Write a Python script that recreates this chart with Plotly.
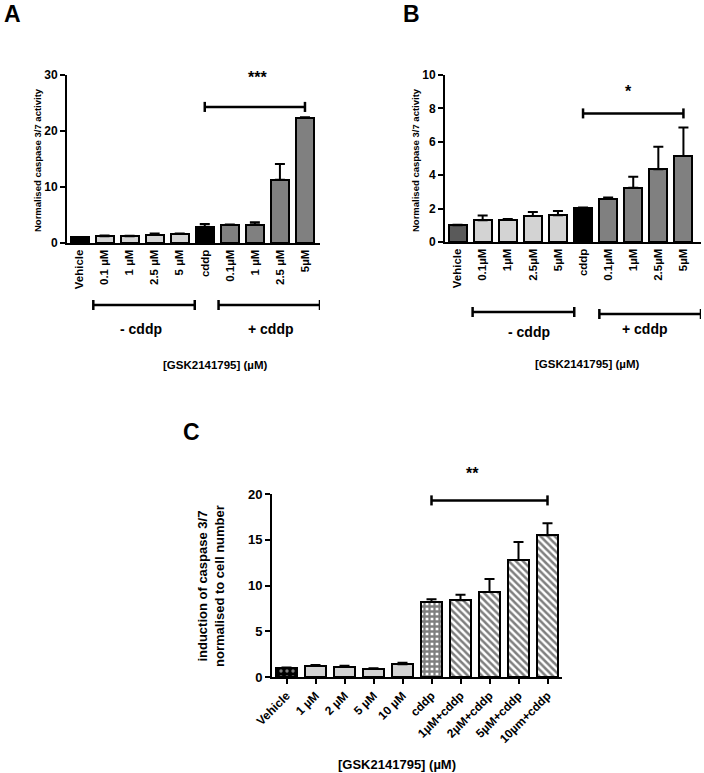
import plotly.graph_objects as go

W, H = 704, 773

# ---------------- data ----------------
a_labels = ["Vehicle", "0.1 µM", "1 µM", "2.5 µM", "5 µM", "cddp", "0.1µM", "1 µM", "2.5 µM", "5µM"]
a_values = [1.0, 1.2, 1.2, 1.5, 1.6, 2.9, 3.2, 3.3, 11.3, 22.3]
a_errors = [0.05, 0.15, 0.1, 0.2, 0.1, 0.5, 0.1, 0.4, 2.8, 0.15]

b_labels = ["Vehicle", "0.1µM", "1µM", "2.5µM", "5µM", "cddp", "0.1µM", "1µM", "2.5µM", "5µM"]
b_values = [1.0, 1.3, 1.33, 1.55, 1.6, 2.03, 2.6, 3.25, 4.35, 5.15]
b_errors = [0.03, 0.28, 0.05, 0.25, 0.25, 0.04, 0.06, 0.65, 1.35, 1.7]

c_labels = ["Vehicle", "1 µM", "2 µM", "5 µM", "10 µM", "cddp", "1µM+cddp", "2µM+cddp", "5µM+cddp", "10µm+cddp"]
c_values = [1.0, 1.2, 1.1, 0.9, 1.4, 8.2, 8.4, 9.3, 12.8, 15.5]
c_errors = [0.05, 0.12, 0.12, 0.05, 0.15, 0.3, 0.6, 1.4, 1.95, 1.3]

a_sig, b_sig, c_sig = "***", "*", "**"
a_sig_y, b_sig_y, c_sig_y = 24.3, 7.7, 19.3

# ---------------- helpers ----------------
FONT = "Liberation Sans, Arial, sans-serif"
def px(x):
    return x / W
def py(y):
    return 1 - y / H

fig = go.Figure()

def add_bar(xa, ya, i, value, error, color, pattern=None, width=0.72, cap=5):
    marker = dict(color=color, line=dict(color="black", width=2))
    if pattern is not None:
        marker["pattern"] = pattern
    fig.add_trace(go.Bar(
        x=[i], y=[value], xaxis=xa, yaxis=ya, width=width, marker=marker,
        error_y=dict(type="data", symmetric=False, array=[error],
                     arrayminus=[0], color="black", thickness=2, width=cap),
        showlegend=False, hoverinfo="skip"))

LG, DG, BK = "#d3d3d3", "#808080", "#000000"
a_colors = [BK, LG, LG, LG, LG, BK, DG, DG, DG, DG]
b_colors = ["#5a5a5a", LG, LG, LG, LG, BK, DG, DG, DG, DG]
for i in range(len(a_labels)):
    add_bar("x", "y", i, a_values[i], a_errors[i], a_colors[i])
for i in range(len(b_labels)):
    add_bar("x2", "y2", i, b_values[i], b_errors[i], b_colors[i])

DOTS = dict(shape=".", fgcolor="white", bgcolor="black", size=6, solidity=0.25, fillmode="overlay")
CHECK = dict(shape="+", fgcolor="black", bgcolor="white", size=5, solidity=0.7, fillmode="overlay")
HATCH = dict(shape="\\", fgcolor="black", bgcolor="white", size=5, solidity=0.5, fillmode="overlay")
c_styles = [(BK, DOTS), (LG, None), (LG, None), (LG, None), (LG, None),
            ("white", CHECK), ("white", HATCH), ("white", HATCH), ("white", HATCH), ("white", HATCH)]
for i in range(len(c_labels)):
    col, pat = c_styles[i]
    add_bar("x3", "y3", i, c_values[i], c_errors[i], col, pattern=pat, width=0.7, cap=5)

def xaxis(dom, labels, angle, size, rng, ticks=""):
    return dict(domain=dom, range=rng, tickmode="array",
                tickvals=list(range(len(labels))), ticktext=labels,
                tickangle=angle, showline=True, linecolor="black", linewidth=2,
                ticks=ticks, ticklen=5, tickwidth=2, tickcolor="black",
                showgrid=False, zeroline=False, automargin=False,
                tickfont=dict(family=FONT, size=size, color="black", weight="bold"))

def yaxis(dom, anchor, rng, dtick, size):
    return dict(domain=dom, anchor=anchor, range=rng, dtick=dtick,
                showline=True, linecolor="black", linewidth=2,
                ticks="outside", ticklen=5, tickwidth=2, tickcolor="black",
                showgrid=False, zeroline=False, automargin=False,
                tickfont=dict(family=FONT, size=size, color="black", weight="bold"))

fig.update_layout(
    width=W, height=H, margin=dict(l=0, r=0, t=0, b=0, autoexpand=False),
    paper_bgcolor="white", plot_bgcolor="white", bargap=0, barmode="overlay",
    xaxis=dict(**xaxis([px(67), px(320)], a_labels, -90, 11.5, [-0.5, 9.6]), anchor="y"),
    yaxis=yaxis([py(243), py(75)], "x", [0, 30], 10, 12),
    xaxis2=dict(**xaxis([px(445), px(701)], b_labels, -90, 11.5, [-0.5, 9.7]), anchor="y2"),
    yaxis2=yaxis([py(242), py(75)], "x2", [0, 10], 2, 12),
    xaxis3=dict(**xaxis([px(272), px(562)], c_labels, -45, 12, [-0.5, 9.5], "outside"), anchor="y3"),
    yaxis3=yaxis([py(677), py(494)], "x3", [0, 20], 5, 13),
)

def line(x0, x1, y0, y1, xref, yref, w=2.5):
    fig.add_shape(type="line", x0=x0, x1=x1, y0=y0, y1=y1, xref=xref, yref=yref,
                  line=dict(color="black", width=w))

def bracket(x0, x1, y, dy, xref, yref):
    line(x0, x1, y, y, xref, yref)
    line(x0, x0, y - dy, y + dy, xref, yref)
    line(x1, x1, y - dy, y + dy, xref, yref)

def text(x, y, s, size, xref="paper", yref="paper", angle=0):
    fig.add_annotation(x=x, y=y, xref=xref, yref=yref, text=s, showarrow=False,
                       textangle=angle, xanchor="center", yanchor="middle",
                       font=dict(family=FONT, size=size, color="black", weight="bold"))

# significance brackets (data coordinates)
bracket(5, 9, a_sig_y, 0.9, "x", "y")
bracket(5, 9, b_sig_y, 0.3, "x2", "y2")
bracket(5, 9, c_sig_y, 0.55, "x3", "y3")
text(px(257), py(77), a_sig, 16)
text(px(628), py(91), b_sig, 16)
text(px(472), py(473), c_sig, 16)

# group brackets under panels A and B
bracket(0.55, 4.6, py(305), 5 / H, "x", "paper")
bracket(5.55, 9.6, py(305), 5 / H, "x", "paper")
bracket(0.6, 4.65, py(312), 5 / H, "x2", "paper")
bracket(5.65, 9.7, py(314), 5 / H, "x2", "paper")
text(px(141), py(329), "- cddp", 14)
text(px(271), py(329), "+ cddp", 14)
text(px(529), py(332), "- cddp", 14)
text(px(645), py(329), "+ cddp", 14)

# axis titles
text(px(215), py(365), "[GSK2141795] (µM)", 11.5)
text(px(587), py(364), "[GSK2141795] (µM)", 11.5)
text(px(397), py(764), "[GSK2141795] (µM)", 13)
text(px(37), py(160), "Normalised caspase 3/7 activity", 9.5, angle=-90)
text(px(415), py(160), "Normalised caspase 3/7 activity", 9.5, angle=-90)
text(px(211), py(586), "induction of caspase 3/7<br>normalised to cell number", 13, angle=-90)

# panel letters
text(px(12), py(14), "A", 23)
text(px(411), py(14), "B", 23)
text(px(191), py(432), "C", 23)

fig.write_html("out.html", config={"displayModeBar": False},
               post_script="document.body.style.margin='0px';document.body.style.overflow='hidden';")
